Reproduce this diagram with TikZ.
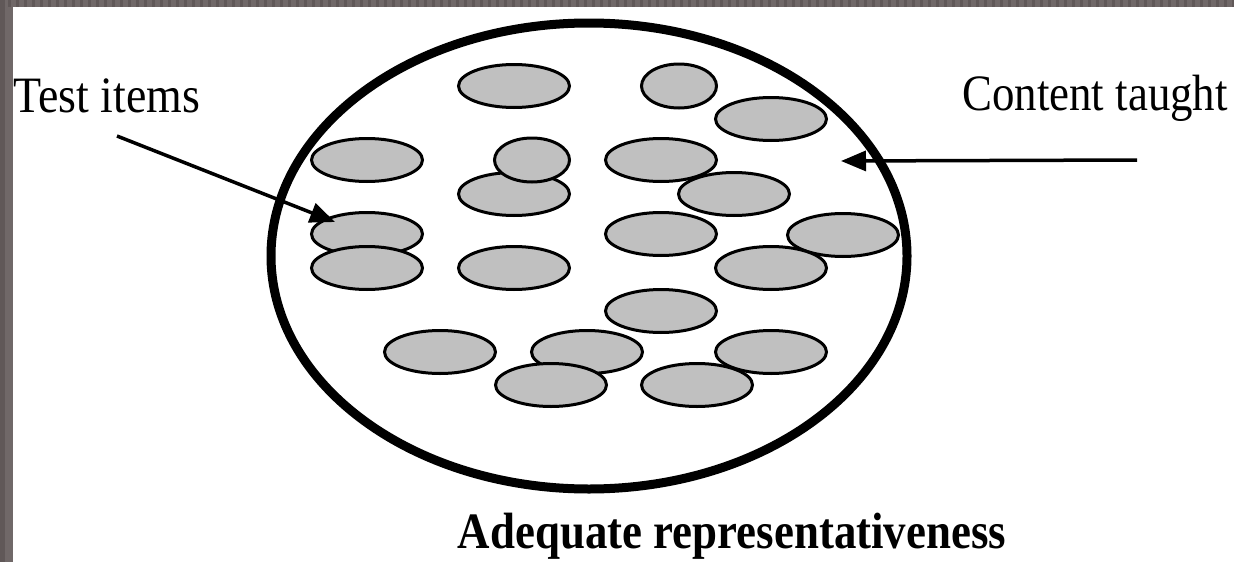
\documentclass[tikz,border=0pt]{standalone}
\usepackage{fontspec}
\setmainfont{Liberation Serif}
\usetikzlibrary{shapes.geometric,arrows.meta}
\definecolor{framegray}{RGB}{112,104,104}
\definecolor{framedark}{RGB}{96,88,88}
\definecolor{itemgray}{RGB}{192,192,192}
\tikzset{
  item/.style={ellipse, draw=black, fill=itemgray, line width=3pt, inner sep=0pt,
    minimum width=111pt, minimum height=43pt},
  itemround/.style={item, minimum width=75pt, minimum height=44pt},
  label/.style={inner sep=0pt, font=\fontsize{51}{60}\selectfont},
  pointer/.style={line width=3.5pt, -{Triangle[length=25pt, width=20pt]}},
}
\begin{document}
\begin{tikzpicture}[x=1pt, y=-1pt]
\useasboundingbox (0,0) rectangle (1234,562);
\fill[white] (0,0) rectangle (1234,562);
% frame
\fill[framegray] (0,0) rectangle (1234,7);
\fill[framegray] (0,0) rectangle (12.5,562);
\foreach \i in {0,8,...,1232} \fill[framedark] (\i,0) rectangle ++(3,7);
\fill[framedark] (0,0) rectangle (5,562);

% test items
\node[item] (e1) at (514,86) {};
\node[itemround] (e2) at (679,86) {};
\node[item] (e3) at (771,119) {};
\node[item] (e4) at (367,160) {};
\node[item] (e6) at (514,194) {};
\node[itemround] (e5) at (532,160) {};
\node[item] (e7) at (661,160) {};
\node[item] (e8) at (734,194) {};
\node[item] (e9) at (367,234) {};
\node[item] (e10) at (367,268) {};
\node[item] (e11) at (514,268) {};
\node[item] (e12) at (661,234) {};
\node[item] (e13) at (843,235) {};
\node[item] (e14) at (771,268) {};
\node[item] (e15) at (661,311) {};
\node[item] (e16) at (440,352) {};
\node[item] (e17) at (587,352) {};
\node[item] (e18) at (771,352) {};
\node[item] (e19) at (551,385) {};
\node[item] (e20) at (697,385) {};

% content taught
\node[ellipse, draw=black, line width=9pt, minimum width=636pt, minimum height=466pt, inner sep=0pt] (content) at (589,256) {};

% labels
\node[label, anchor=base west] (testlbl) at (13,112) {\scalebox{0.9}[1]{Test items}};
\node[label, anchor=base east] (contentlbl) at (1228,110) {\scalebox{0.88}[1]{Content taught}};
\node[label, anchor=base, font=\fontsize{51}{60}\selectfont\bfseries] (title) at (732,548) {\scalebox{0.88}[1]{Adequate representativeness}};

% pointers
\coordinate (tistart) at (117,136);
\coordinate (titip) at (335,222);
\coordinate (ctstart) at (1137,160);
\coordinate (cttip) at (841,161);
\draw[pointer] (tistart) -- (titip);
\draw[pointer] (ctstart) -- (cttip);
\end{tikzpicture}
\end{document}
